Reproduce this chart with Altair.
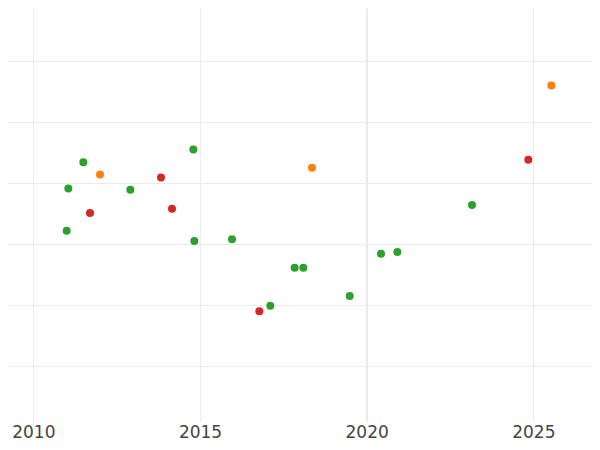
import altair as alt
import pandas as pd

# Data
years = [2011.00, 2011.05, 2011.50, 2012.91, 2014.80, 2014.83, 2015.96, 2017.11,
         2017.84, 2018.10, 2019.49, 2020.43, 2020.92, 2023.16,
         2011.70, 2013.83, 2014.16, 2016.78, 2024.85,
         2012.00, 2018.36, 2025.54]
values = [32.2, 39.1, 43.4, 38.9, 45.5, 30.5, 30.8, 19.9,
          26.1, 26.1, 21.5, 28.4, 28.7, 36.4,
          35.1, 40.9, 35.8, 19.0, 43.8,
          41.4, 42.5, 56.0]
groups = ["green"] * 14 + ["red"] * 5 + ["orange"] * 3

group_names = ["green", "red", "orange"]
group_colors = ["#2ca02c", "#d62728", "#ff7f0e"]

x_ticks = [2010, 2015, 2020, 2025]
y_grid = [10, 20, 30, 40, 50, 60]
marker_year = [2020]

df = pd.DataFrame({"year": years, "value": values, "group": groups})
rule_df = pd.DataFrame({"year": marker_year})

x_scale = alt.Scale(domain=[2009.24, 2026.76], nice=False, zero=False)
y_scale = alt.Scale(domain=[1.0, 68.69], nice=False, zero=False)

x_axis = alt.Axis(values=x_ticks, format="d", title=None, domain=False,
                  ticks=False, grid=True, gridColor="#ebebeb",
                  labelFont="DejaVu Sans", labelFontSize=17,
                  labelColor="#444444", labelPadding=3.5)

rule = alt.Chart(rule_df).mark_rule(color="#ececec", strokeWidth=1.8).encode(
    x=alt.X("year:Q", scale=x_scale, axis=x_axis)
)

points = alt.Chart(df).mark_circle(size=64, opacity=1).encode(
    x=alt.X("year:Q", scale=x_scale, axis=x_axis),
    y=alt.Y("value:Q", scale=y_scale,
            axis=alt.Axis(values=y_grid, labels=False, ticks=False, domain=False,
                          title=None, grid=True, gridColor="#ebebeb")),
    color=alt.Color("group:N", scale=alt.Scale(domain=group_names, range=group_colors),
                    legend=None),
)

chart = alt.layer(rule, points).properties(
    width=584, height=413,
    autosize=alt.AutoSizeParams(type="none"),
    padding={"left": 0, "top": 0, "right": 0, "bottom": 21},
    background="white",
).configure_view(stroke=None)

chart.save("out.html", embed_options={"renderer": "svg", "actions": False})
